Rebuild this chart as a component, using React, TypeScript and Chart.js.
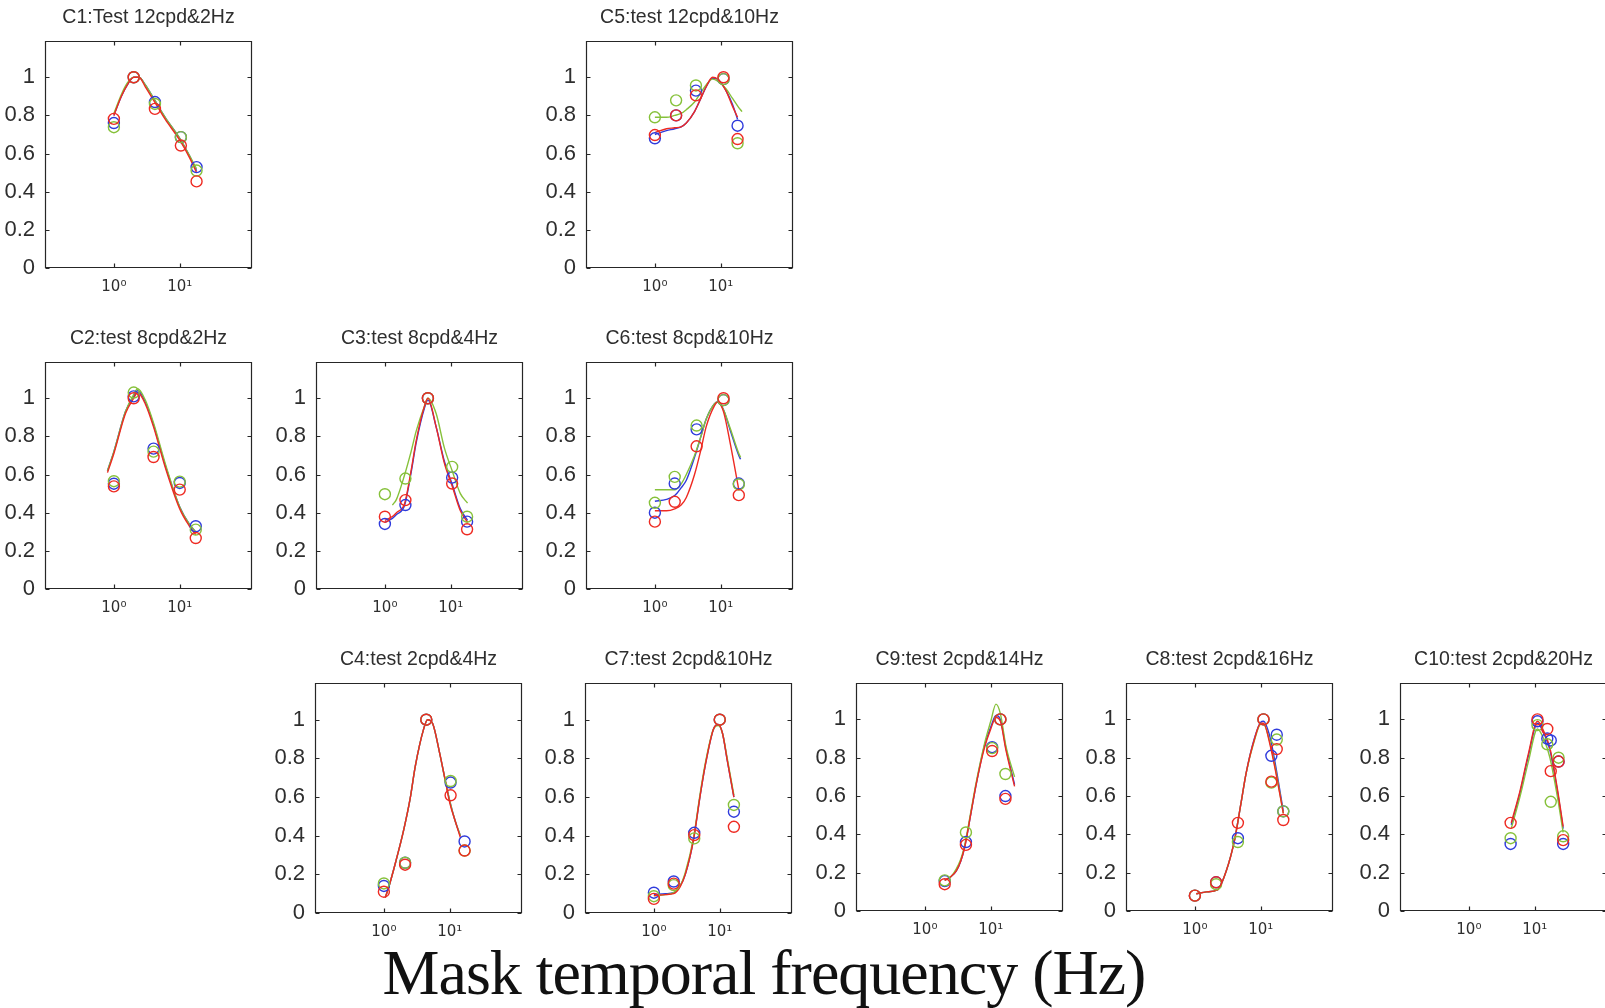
import React, { useEffect, useRef } from "react";
import { Chart, registerables } from "chart.js";

Chart.register(...registerables);

// ---------------- DATA ----------------
const Y_TICKS = [0, 0.2, 0.4, 0.6, 0.8, 1];
const X_TICKS = [1, 10];
const X_TICK_LABELS = ["10\u2070", "10\u00B9"];

const TITLES = [
  "C1:Test 12cpd&2Hz",
  "C5:test 12cpd&10Hz",
  "C2:test 8cpd&2Hz",
  "C3:test 8cpd&4Hz",
  "C6:test 8cpd&10Hz",
  "C4:test 2cpd&4Hz",
  "C7:test 2cpd&10Hz",
  "C9:test 2cpd&14Hz",
  "C8:test 2cpd&16Hz",
  "C10:test 2cpd&20Hz",
];
const X_LABEL = "Mask temporal frequency (Hz)";

// C1
const C1_X = [1, 2, 4.2, 10.4, 18];
const C1_BLUE = [0.76, 1.0, 0.87, 0.686, 0.529];
const C1_GREEN = [0.738, 1.0, 0.86, 0.686, 0.511];
const C1_RED = [0.782, 1.0, 0.834, 0.642, 0.454];
const C1_FIT_X = [1, 1.3, 1.6, 2, 2.4, 3, 4, 6, 10, 14, 18];
const C1_FIT_BLUE = [0.8, 0.9, 0.96, 1.0, 1.0, 0.96, 0.89, 0.79, 0.68, 0.59, 0.51];
const C1_FIT_GREEN = [0.81, 0.91, 0.97, 1.0, 1.0, 0.96, 0.89, 0.79, 0.68, 0.59, 0.52];
const C1_FIT_RED = [0.8, 0.9, 0.96, 1.0, 1.0, 0.95, 0.88, 0.78, 0.67, 0.58, 0.5];

// C5
const C5_X = [1, 2.1, 4.2, 11, 18];
const C5_BLUE = [0.68, 0.8, 0.93, 0.99, 0.746];
const C5_GREEN = [0.79, 0.879, 0.957, 0.99, 0.654];
const C5_RED = [0.697, 0.8, 0.905, 1.0, 0.676];
const C5_FIT_X = [1, 1.5, 2, 2.5, 3, 4, 5, 6, 7.5, 9, 12, 15, 18, 21];
const C5_FIT_BLUE = [0.7, 0.72, 0.73, 0.74, 0.76, 0.82, 0.89, 0.95, 0.995, 0.99, 0.93, 0.86, 0.78, null];
const C5_FIT_GREEN = [0.79, 0.79, 0.8, 0.81, 0.83, 0.87, 0.92, 0.96, 0.99, 0.98, 0.94, 0.89, 0.85, 0.82];
const C5_FIT_RED = [0.71, 0.73, 0.735, 0.74, 0.76, 0.82, 0.89, 0.95, 1.0, 0.99, 0.93, 0.85, 0.79, null];

// C2
const C2_X = [1, 2, 4, 10, 17.5];
const C2_BLUE = [0.552, 1.01, 0.736, 0.556, 0.329];
const C2_GREEN = [0.565, 1.03, 0.72, 0.563, 0.311];
const C2_RED = [0.538, 1.0, 0.692, 0.521, 0.267];
const C2_FIT_X = [0.8, 1, 1.5, 2, 2.3, 3, 4, 6, 10, 14, 17.5];
const C2_FIT_BLUE = [0.62, 0.72, 0.93, 1.01, 1.04, 0.98, 0.86, 0.65, 0.43, 0.34, 0.3];
const C2_FIT_GREEN = [0.62, 0.72, 0.93, 1.02, 1.05, 0.99, 0.87, 0.66, 0.43, 0.34, 0.3];
const C2_FIT_RED = [0.61, 0.71, 0.92, 1.0, 1.03, 0.97, 0.85, 0.64, 0.42, 0.33, 0.285];

// C3
const C3_X = [1, 2.05, 4.5, 10.5, 17.7];
const C3_BLUE = [0.341, 0.44, 1.0, 0.584, 0.353];
const C3_GREEN = [0.497, 0.579, 1.0, 0.64, 0.379];
const C3_RED = [0.379, 0.466, 1.0, 0.553, 0.313];
const C3_FIT_X = [1, 1.3, 1.5, 2, 2.5, 3, 4, 4.5, 6, 8, 10.5, 14, 18];
const C3_FIT_BLUE = [0.35, 0.37, 0.39, 0.44, 0.61, 0.77, 0.95, 0.99, 0.85, 0.67, 0.55, 0.42, 0.36];
const C3_FIT_GREEN = [null, 0.44, 0.47, 0.6, 0.72, 0.83, 0.96, 1.0, 0.92, 0.74, 0.62, 0.5, 0.45];
const C3_FIT_RED = [0.36, 0.38, 0.4, 0.45, 0.62, 0.78, 0.96, 1.0, 0.85, 0.66, 0.54, 0.41, 0.35];

// C6
const C6_X = [1, 2, 4.3, 11, 18.8];
const C6_BLUE = [0.4, 0.553, 0.837, 0.99, 0.553];
const C6_GREEN = [0.452, 0.588, 0.857, 0.99, 0.548];
const C6_RED = [0.353, 0.457, 0.748, 1.0, 0.492];
const C6_FIT_X = [1, 1.5, 2, 2.5, 3, 4, 5, 6, 8, 9, 11, 14, 18.8, 20];
const C6_FIT_BLUE = [0.46, 0.47, 0.49, 0.53, 0.57, 0.69, 0.8, 0.89, 0.97, 0.98, 0.94, 0.83, 0.7, 0.68];
const C6_FIT_GREEN = [0.52, 0.52, 0.52, 0.55, 0.6, 0.7, 0.8, 0.89, 0.97, 0.98, 0.94, 0.84, 0.71, 0.69];
const C6_FIT_RED = [0.41, 0.41, 0.42, 0.44, 0.48, 0.6, 0.73, 0.85, 0.96, 0.98, 0.93, 0.76, 0.52, null];

// C4
const C4_X = [1, 2.1, 4.4, 10.3, 16.8];
const C4_BLUE = [0.14, 0.26, 1.0, 0.675, 0.37];
const C4_GREEN = [0.153, 0.26, 1.0, 0.683, 0.323];
const C4_RED = [0.11, 0.25, 1.0, 0.609, 0.323];
const C4_FIT_X = [1.05, 1.2, 1.5, 2, 2.5, 3, 4, 4.6, 5.5, 7, 8.5, 10, 12, 14.5];
const C4_FIT_BLUE = [0.08, 0.14, 0.26, 0.43, 0.59, 0.76, 0.95, 1.0, 0.98, 0.83, 0.69, 0.58, 0.48, 0.4];
const C4_FIT_GREEN = [0.08, 0.14, 0.26, 0.43, 0.59, 0.76, 0.95, 1.0, 0.98, 0.83, 0.69, 0.58, 0.48, 0.4];
const C4_FIT_RED = [0.08, 0.14, 0.26, 0.43, 0.59, 0.76, 0.95, 1.0, 0.98, 0.83, 0.69, 0.57, 0.48, 0.39];

// C7
const C7_X = [1, 2, 4.1, 10, 16.4];
const C7_BLUE = [0.105, 0.163, 0.415, 1.0, 0.524];
const C7_GREEN = [0.087, 0.144, 0.386, 1.0, 0.559];
const C7_RED = [0.073, 0.152, 0.403, 1.0, 0.446];
const C7_FIT_X = [1, 1.5, 2, 2.5, 3, 4, 5, 6, 8, 9.5, 11, 13, 16.4];
const C7_FIT_BLUE = [0.095, 0.1, 0.105, 0.14, 0.2, 0.38, 0.6, 0.76, 0.95, 0.975, 0.93, 0.79, 0.6];
const C7_FIT_GREEN = [0.09, 0.095, 0.105, 0.14, 0.21, 0.39, 0.61, 0.77, 0.95, 0.97, 0.93, 0.8, 0.61];
const C7_FIT_RED = [0.09, 0.095, 0.1, 0.135, 0.2, 0.38, 0.6, 0.76, 0.95, 0.975, 0.93, 0.79, 0.6];

// C9
const C9_X = [2, 4.2, 10.5, 14, 16.7];
const C9_BLUE = [0.156, 0.36, 0.855, 1.0, 0.6];
const C9_GREEN = [0.16, 0.41, 0.85, 1.0, 0.715];
const C9_RED = [0.14, 0.345, 0.835, 1.0, 0.585];
const C9_FIT_X = [2, 2.5, 3, 3.5, 4, 5, 6, 8, 10, 12, 14, 17, 23];
const C9_FIT_BLUE = [0.16, 0.18, 0.21, 0.26, 0.33, 0.51, 0.66, 0.86, 0.96, 1.02, 1.0, 0.85, 0.66];
const C9_FIT_GREEN = [0.16, 0.18, 0.22, 0.27, 0.34, 0.52, 0.67, 0.87, 0.99, 1.08, 1.03, 0.86, 0.7];
const C9_FIT_RED = [0.16, 0.18, 0.21, 0.26, 0.33, 0.51, 0.66, 0.85, 0.95, 1.01, 0.99, 0.84, 0.65];

// C8
const C8_X = [1, 2.1, 4.5, 11, 14.5, 17.5, 22];
const C8_BLUE = [0.08, 0.15, 0.38, 1.0, 0.81, 0.92, 0.52];
const C8_GREEN = [0.08, 0.14, 0.36, 1.0, 0.67, 0.895, 0.52];
const C8_RED = [0.08, 0.15, 0.46, 1.0, 0.675, 0.845, 0.475];
const C8_FIT_X = [1.05, 1.5, 2.2, 3, 4, 5, 6, 8, 10, 11, 14, 17, 22];
const C8_FIT_BLUE = [0.09, 0.1, 0.11, 0.21, 0.37, 0.56, 0.72, 0.9, 0.985, 0.99, 0.9, 0.75, 0.52];
const C8_FIT_GREEN = [0.09, 0.1, 0.11, 0.21, 0.37, 0.56, 0.72, 0.89, 0.975, 0.975, 0.87, 0.73, 0.51];
const C8_FIT_RED = [0.09, 0.1, 0.11, 0.21, 0.37, 0.56, 0.72, 0.895, 0.98, 0.98, 0.86, 0.72, 0.51];

// C10
const C10_X = [4.3, 11, 15.5, 17.5, 23, 27];
const C10_BLUE = [0.35, 0.99, 0.9, 0.89, 0.78, 0.35];
const C10_GREEN = [0.38, 0.97, 0.87, 0.57, 0.8, 0.39];
const C10_RED = [0.46, 1.0, 0.95, 0.73, 0.78, 0.37];
const C10_FIT_X = [4.4, 6, 8, 11, 14, 17, 22, 27];
const C10_FIT_BLUE = [0.45, 0.62, 0.81, 0.98, 0.92, 0.84, 0.63, 0.43];
const C10_FIT_GREEN = [0.43, 0.6, 0.78, 0.95, 0.89, 0.8, 0.6, 0.41];
const C10_FIT_RED = [0.46, 0.63, 0.82, 0.99, 0.93, 0.85, 0.64, 0.44];

// ---------------- LAYOUT / STYLE ----------------
const BOX_W = 207;
const LEFT_W = 48;
const TITLE_H = 39;
const XAXIS_H = 40;
const Y_MAX = 1.19;
const X_MIN = 0.09;
const X_MAX = 125;

const POS = [
  { left: 45, top: 41, h: 227 },
  { left: 586, top: 41, h: 227 },
  { left: 45, top: 362, h: 227 },
  { left: 316, top: 362, h: 227 },
  { left: 586, top: 362, h: 227 },
  { left: 315, top: 683, h: 230 },
  { left: 585, top: 683, h: 230 },
  { left: 856, top: 683, h: 228 },
  { left: 1126, top: 683, h: 228 },
  { left: 1400, top: 683, h: 228 },
];

const BLUE = "#2f3bdc";
const GREEN = "#86c13a";
const RED = "#ee2a22";
const TEXT = "#2e2e2e";
const SANS = '"Liberation Sans", Arial, Helvetica, sans-serif';

const PANELS = [
  { x: C1_X, b: C1_BLUE, g: C1_GREEN, r: C1_RED, fx: C1_FIT_X, fb: C1_FIT_BLUE, fg: C1_FIT_GREEN, fr: C1_FIT_RED },
  { x: C5_X, b: C5_BLUE, g: C5_GREEN, r: C5_RED, fx: C5_FIT_X, fb: C5_FIT_BLUE, fg: C5_FIT_GREEN, fr: C5_FIT_RED },
  { x: C2_X, b: C2_BLUE, g: C2_GREEN, r: C2_RED, fx: C2_FIT_X, fb: C2_FIT_BLUE, fg: C2_FIT_GREEN, fr: C2_FIT_RED },
  { x: C3_X, b: C3_BLUE, g: C3_GREEN, r: C3_RED, fx: C3_FIT_X, fb: C3_FIT_BLUE, fg: C3_FIT_GREEN, fr: C3_FIT_RED },
  { x: C6_X, b: C6_BLUE, g: C6_GREEN, r: C6_RED, fx: C6_FIT_X, fb: C6_FIT_BLUE, fg: C6_FIT_GREEN, fr: C6_FIT_RED },
  { x: C4_X, b: C4_BLUE, g: C4_GREEN, r: C4_RED, fx: C4_FIT_X, fb: C4_FIT_BLUE, fg: C4_FIT_GREEN, fr: C4_FIT_RED },
  { x: C7_X, b: C7_BLUE, g: C7_GREEN, r: C7_RED, fx: C7_FIT_X, fb: C7_FIT_BLUE, fg: C7_FIT_GREEN, fr: C7_FIT_RED },
  { x: C9_X, b: C9_BLUE, g: C9_GREEN, r: C9_RED, fx: C9_FIT_X, fb: C9_FIT_BLUE, fg: C9_FIT_GREEN, fr: C9_FIT_RED },
  { x: C8_X, b: C8_BLUE, g: C8_GREEN, r: C8_RED, fx: C8_FIT_X, fb: C8_FIT_BLUE, fg: C8_FIT_GREEN, fr: C8_FIT_RED },
  { x: C10_X, b: C10_BLUE, g: C10_GREEN, r: C10_RED, fx: C10_FIT_X, fb: C10_FIT_BLUE, fg: C10_FIT_GREEN, fr: C10_FIT_RED },
];

const pts = (xs: number[], ys: (number | null)[]) =>
  xs.map((x, i) => ({ x, y: ys[i] })).filter((p) => p.y !== null && p.y !== undefined);

const framePlugin = {
  id: "matlabFrame",
  afterDraw(chart: any) {
    const { ctx, chartArea: a, scales } = chart;
    const L = Math.round(a.left) + 0.5;
    const R = Math.round(a.right) - 0.5;
    const T = Math.round(a.top) + 0.5;
    const B = Math.round(a.bottom) - 0.5;
    const tl = 4;
    ctx.save();
    ctx.strokeStyle = "#262626";
    ctx.lineWidth = 1.2;
    ctx.beginPath();
    ctx.rect(L, T, R - L, B - T);
    scales.y.ticks.forEach((t: any) => {
      const py = Math.round(scales.y.getPixelForValue(t.value)) + 0.5;
      ctx.moveTo(L, py);
      ctx.lineTo(L + tl, py);
      ctx.moveTo(R, py);
      ctx.lineTo(R - tl, py);
    });
    scales.x.ticks.forEach((t: any) => {
      const px = Math.round(scales.x.getPixelForValue(t.value)) + 0.5;
      ctx.moveTo(px, B);
      ctx.lineTo(px, B - tl);
      ctx.moveTo(px, T);
      ctx.lineTo(px, T + tl);
    });
    ctx.stroke();
    ctx.restore();
  },
};

function markerSet(data: any, color: string) {
  return {
    type: "line",
    data,
    showLine: false,
    pointRadius: 5.5,
    pointHoverRadius: 5.5,
    pointBorderWidth: 1.4,
    pointBorderColor: color,
    pointBackgroundColor: "rgba(0,0,0,0)",
    borderColor: color,
  };
}

function curveSet(data: any, color: string) {
  return {
    type: "line",
    data,
    borderColor: color,
    borderWidth: 1.4,
    pointRadius: 0,
    fill: false,
    cubicInterpolationMode: "monotone",
  };
}

function Panel({ idx }: { idx: number }) {
  const ref = useRef<HTMLCanvasElement | null>(null);
  const p = PANELS[idx];
  const pos = POS[idx];
  const W = LEFT_W + BOX_W + LEFT_W;
  const H = TITLE_H + pos.h + XAXIS_H;

  useEffect(() => {
    if (!ref.current) return;
    const chart = new Chart(ref.current, {
      type: "line",
      data: {
        datasets: [
          markerSet(pts(p.x, p.r), RED),
          markerSet(pts(p.x, p.g), GREEN),
          markerSet(pts(p.x, p.b), BLUE),
          curveSet(pts(p.fx, p.fr), RED),
          curveSet(pts(p.fx, p.fg), GREEN),
          curveSet(pts(p.fx, p.fb), BLUE),
        ] as any,
      },
      options: {
        responsive: false,
        animation: false,
        devicePixelRatio: 1,
        layout: { padding: 0 },
        plugins: {
          legend: { display: false },
          tooltip: { enabled: false },
          title: {
            display: true,
            text: TITLES[idx],
            color: TEXT,
            font: { family: SANS, size: 19.5, weight: "normal", lineHeight: "24px" } as any,
            padding: { top: 4, bottom: 11 },
          },
        },
        scales: {
          x: {
            type: "logarithmic",
            min: X_MIN,
            max: X_MAX,
            grid: { display: false, drawTicks: false },
            border: { display: false },
            afterBuildTicks: (s: any) => {
              s.ticks = X_TICKS.map((v) => ({ value: v }));
            },
            afterFit: (s: any) => {
              s.height = XAXIS_H;
            },
            ticks: {
              autoSkip: false,
              maxRotation: 0,
              padding: 10,
              color: TEXT,
              font: { family: '"DejaVu Sans", sans-serif', size: 15 },
              callback: (v: any) => {
                const i = X_TICKS.indexOf(Number(v));
                return i >= 0 ? X_TICK_LABELS[i] : "";
              },
            },
          },
          y: {
            type: "linear",
            position: "left",
            min: 0,
            max: Y_MAX,
            grid: { display: false, drawTicks: false },
            border: { display: false },
            afterBuildTicks: (s: any) => {
              s.ticks = Y_TICKS.map((v) => ({ value: v }));
            },
            afterFit: (s: any) => {
              s.width = LEFT_W;
            },
            ticks: {
              padding: 10,
              color: TEXT,
              font: { family: SANS, size: 22 },
              callback: (v: any) => String(Number(Number(v).toFixed(1))),
            },
          },
          yr: {
            type: "linear",
            position: "right",
            min: 0,
            max: Y_MAX,
            display: true,
            grid: { display: false, drawTicks: false },
            border: { display: false },
            ticks: { display: false },
            afterFit: (s: any) => {
              s.width = LEFT_W;
            },
          },
        },
      } as any,
      plugins: [framePlugin],
    });
    return () => chart.destroy();
  }, []);

  return (
    <canvas
      ref={ref}
      width={W}
      height={H}
      style={{ position: "absolute", left: pos.left - LEFT_W, top: pos.top - TITLE_H, width: W, height: H }}
    />
  );
}

export default function App() {
  return (
    <div
      style={{
        position: "absolute",
        left: 0,
        top: 0,
        width: 1605,
        height: 1008,
        overflow: "hidden",
        background: "#ffffff",
      }}
    >
      {PANELS.map((_, i) => (
        <Panel key={i} idx={i} />
      ))}
      <div
        style={{
          position: "absolute",
          left: 264,
          top: 941,
          width: 1000,
          textAlign: "center",
          fontFamily: '"Liberation Serif", "Times New Roman", serif',
          fontSize: 64,
          lineHeight: "64px",
          color: "#111",
          whiteSpace: "nowrap",
          letterSpacing: "-1px",
        }}
      >
        {X_LABEL}
      </div>
    </div>
  );
}
